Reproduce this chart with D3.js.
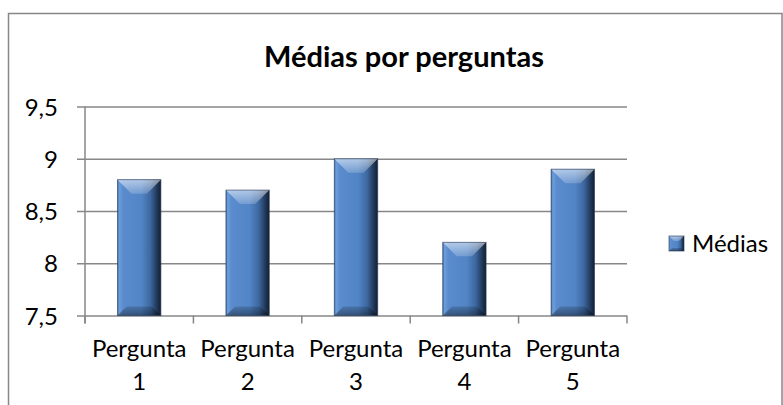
<!DOCTYPE html>
<html>
<head>
<meta charset="utf-8">
<script src="https://cdn.jsdelivr.net/npm/d3@7"></script>
<style>
  body { margin: 0; background: #fff; }
  svg { display: block; font-family: Lato, "Open Sans", sans-serif; }
</style>
</head>
<body>
<div id="chart"></div>
<script>
var categories = ["Pergunta 1", "Pergunta 2", "Pergunta 3", "Pergunta 4", "Pergunta 5"];
var medias = [8.8, 8.7, 9.0, 8.2, 8.9];
var yTicks = [7.5, 8, 8.5, 9, 9.5];
var seriesName = "Médias";
var chartTitle = "Médias por perguntas";

var width = 783,
    height = 405,
    plotLeft = 85,
    plotRight = 627,
    plotTop = 106.5,
    plotBottom = 315.5;

var svg = d3.select('#chart')
    .append('svg')
    .attr('width', width)
    .attr('height', height);

var defs = svg.append('defs');

var face = defs.append('linearGradient')
    .attr('id', 'face')
    .attr('x1', '0').attr('x2', '1').attr('y1', '0').attr('y2', '0');
[[0, '#3f6ca8'], [0.04, '#6c9ddb'], [0.13, '#5a8ccd'], [0.55, '#5285c6'],
 [0.76, '#3d679f'], [0.9, '#223b5d'], [1, '#131f31']].forEach(function (s) {
    face.append('stop').attr('offset', s[0]).attr('stop-color', s[1]);
});

var topShine = defs.append('linearGradient')
    .attr('id', 'topShine')
    .attr('x1', '0').attr('x2', '0').attr('y1', '0').attr('y2', '1');
topShine.append('stop').attr('offset', 0).attr('stop-color', '#fff').attr('stop-opacity', 0.55);
topShine.append('stop').attr('offset', 1).attr('stop-color', '#fff').attr('stop-opacity', 0.18);

var bottomShade = defs.append('linearGradient')
    .attr('id', 'bottomShade')
    .attr('x1', '0').attr('x2', '0').attr('y1', '0').attr('y2', '1');
bottomShade.append('stop').attr('offset', 0).attr('stop-color', '#000').attr('stop-opacity', 0.15);
bottomShade.append('stop').attr('offset', 1).attr('stop-color', '#000').attr('stop-opacity', 0.4);

// outer frame
svg.append('rect')
    .attr('x', 8.5)
    .attr('y', 13.5)
    .attr('width', 773.5)
    .attr('height', 420)
    .style('fill', 'none')
    .style('stroke', '#878787')
    .style('stroke-width', 1.5);

svg.append('text')
    .attr('x', 404)
    .attr('y', 67)
    .attr('text-anchor', 'middle')
    .style('font-size', '29px')
    .style('font-weight', 'bold')
    .style('fill', '#000')
    .text(chartTitle);

var xScale = d3.scaleBand()
    .domain(categories)
    .range([plotLeft, plotRight])
    .paddingInner(0.6)
    .paddingOuter(0.3);

var yScale = d3.scaleLinear()
    .domain([7.5, 9.5])
    .range([plotBottom, plotTop]);

var fmt = function (d) { return String(d).replace('.', ','); };

// gridlines + y labels
var yAxis = d3.axisLeft(yScale)
    .tickValues(yTicks)
    .tickSize(0)
    .tickFormat(fmt);

var yGuide = svg.append('g')
    .attr('transform', 'translate(' + (plotLeft - 8) + ',0)')
    .call(yAxis);
yGuide.select('.domain').remove();
yGuide.selectAll('line')
    .attr('x1', 0)
    .attr('x2', plotRight - plotLeft + 8)
    .style('stroke', '#878787')
    .style('stroke-width', 1.5);
yGuide.selectAll('text')
    .attr('x', -19)
    .attr('dy', '0.36em')
    .style('font-family', 'Lato, "Open Sans", sans-serif')
    .style('font-size', '24px')
    .style('fill', '#000');

// y axis line
svg.append('line')
    .attr('x1', plotLeft).attr('x2', plotLeft)
    .attr('y1', plotTop).attr('y2', plotBottom + 8)
    .style('stroke', '#878787')
    .style('stroke-width', 1.5);

// category boundary ticks
var edges = categories.map(function (c, i) { return plotLeft + i * (plotRight - plotLeft) / categories.length; });
edges.push(plotRight);
svg.selectAll('.xtick')
    .data(edges)
    .enter().append('line')
    .attr('class', 'xtick')
    .attr('x1', function (d) { return d; })
    .attr('x2', function (d) { return d; })
    .attr('y1', plotBottom)
    .attr('y2', plotBottom + 8)
    .style('stroke', '#878787')
    .style('stroke-width', 1.5);

// x labels (two lines)
var xLabels = svg.selectAll('.xlabel')
    .data(categories)
    .enter().append('text')
    .attr('class', 'xlabel')
    .attr('text-anchor', 'middle')
    .style('font-size', '24px')
    .style('fill', '#000');
xLabels.append('tspan')
    .attr('x', function (d) { return xScale(d) + xScale.bandwidth() / 2; })
    .attr('y', 357)
    .text(function (d) { return d.split(' ')[0]; });
xLabels.append('tspan')
    .attr('x', function (d) { return xScale(d) + xScale.bandwidth() / 2; })
    .attr('y', 390)
    .text(function (d) { return d.split(' ')[1]; });

// bevelled bar
function drawBar(g, x, y, w, h, bt, bb) {
    g.append('rect')
        .attr('x', x).attr('y', y)
        .attr('width', w).attr('height', h)
        .style('fill', 'url(#face)');
    g.append('polygon')
        .attr('points', [[x, y], [x + w, y], [x + w - bt, y + bt], [x + bt, y + bt]].join(' '))
        .style('fill', 'url(#topShine)');
    g.append('polygon')
        .attr('points', [[x, y + h], [x + w, y + h], [x + w - bb, y + h - bb], [x + bb, y + h - bb]].join(' '))
        .style('fill', 'url(#bottomShade)');
    g.append('rect')
        .attr('x', x).attr('y', y)
        .attr('width', w).attr('height', h)
        .style('fill', 'none')
        .style('stroke', '#1e3453')
        .style('stroke-opacity', 0.6)
        .style('stroke-width', 1);
}

var bars = svg.append('g');
categories.forEach(function (c, i) {
    var g = bars.append('g');
    drawBar(g, xScale(c), yScale(medias[i]), xScale.bandwidth(), plotBottom - yScale(medias[i]), 14, 9);
});

// legend
var legend = svg.append('g').attr('transform', 'translate(669,236)');
drawBar(legend, 0, 0, 15, 15, 5, 3);
legend.append('text')
    .attr('x', 23)
    .attr('y', 16)
    .style('font-size', '24px')
    .style('fill', '#000')
    .text(seriesName);
</script>
</body>
</html>
